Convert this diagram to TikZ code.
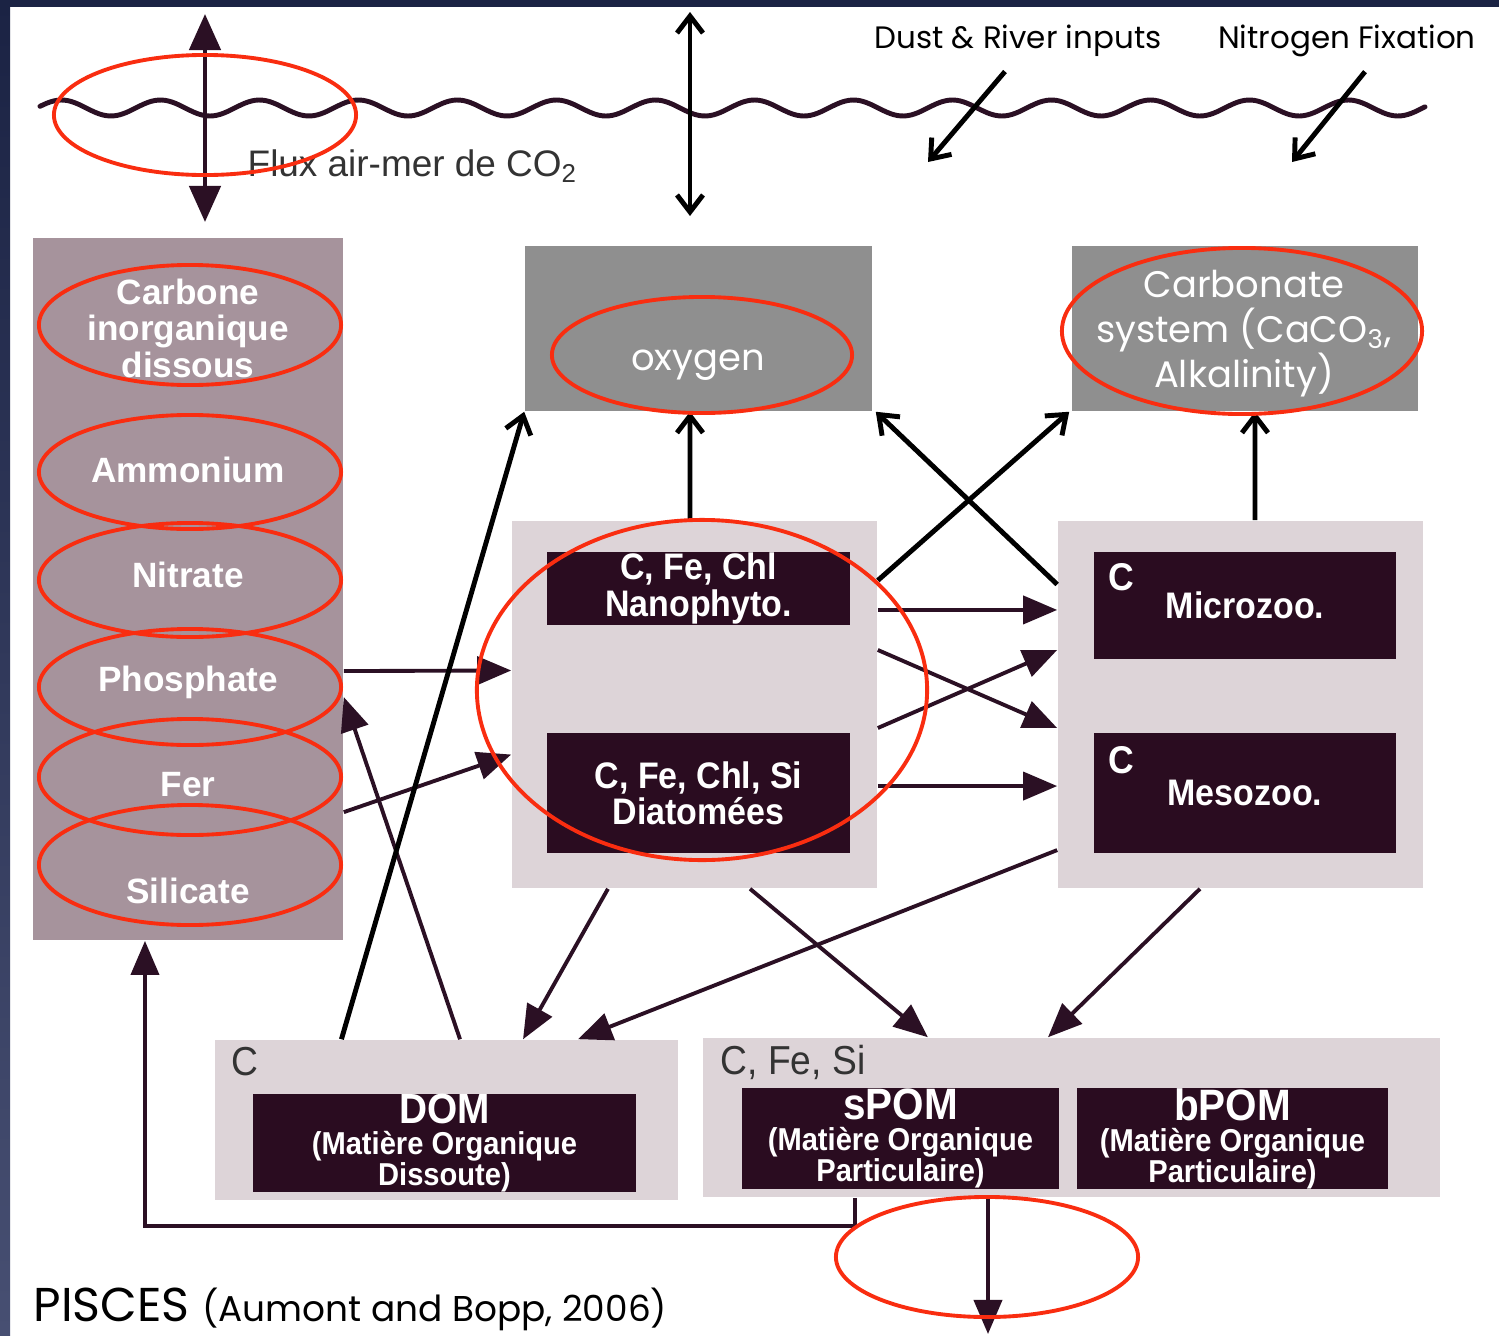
\documentclass[tikz,border=0pt]{standalone}
\usepackage{fontspec}
\setmainfont{Liberation Sans}
\newfontfamily\gothic{Poppins}
\newfontfamily\narrowsf[FakeStretch=0.92]{Liberation Sans}
\usetikzlibrary{arrows.meta}
\definecolor{navy}{HTML}{1B2344}
\definecolor{navylow}{HTML}{474F72}
\definecolor{ink}{HTML}{2B1024}
\definecolor{plum}{HTML}{2A0C20}
\definecolor{mauve}{HTML}{A6939C}
\definecolor{lilac}{HTML}{DDD4D8}
\definecolor{tracergrey}{HTML}{8F8F8F}
\definecolor{ringred}{HTML}{F92D10}

\begin{document}
\begin{tikzpicture}[x=0.01cm,y=-0.01cm,
  pool/.style={fill=mauve,inner sep=0pt},
  group/.style={fill=lilac,inner sep=0pt},
  tracer/.style={fill=tracergrey,inner sep=0pt,text=white,align=center,
                 font=\gothic\fontsize{10.5}{12.8}\selectfont},
  cell/.style={fill=plum,inner sep=0pt,text=white,align=center,
               font=\narrowsf\bfseries\fontsize{10.5}{10.3}\selectfont},
  pomcell/.style={cell,font=\narrowsf\bfseries\fontsize{9}{8.8}\selectfont},
  nut/.style={text=white,align=center,inner sep=0pt,
              font=\bfseries\fontsize{10}{10.4}\selectfont},
  tag/.style={anchor=west,inner sep=0pt,text=black!80,
              font=\narrowsf\fontsize{11.5}{12}\selectfont},
  ctag/.style={anchor=west,inner sep=0pt,text=white,
              font=\narrowsf\bfseries\fontsize{11}{12}\selectfont},
  note/.style={inner sep=0pt,font=\gothic\fontsize{8.8}{10}\selectfont},
  ring/.style={draw=ringred,line width=1.1pt},
  flow/.style={draw=ink,line width=1.1pt,-{Triangle[length=3.4mm,width=2.8mm]}},
  gas/.style={draw=black,line width=1.4pt,-{Straight Barb[length=1.7mm,width=2.6mm]}},
  gas2/.style={draw=black,line width=1.4pt,
              {Straight Barb[length=1.7mm,width=2.6mm]}-{Straight Barb[length=1.7mm,width=2.6mm]}},
  co2/.style={draw=ink,line width=1.3pt,
              {Triangle[length=3.6mm,width=3.1mm]}-{Triangle[length=3.6mm,width=3.1mm]}}]
  \useasboundingbox (0,0) rectangle (1499,1336);
  % slide frame
  \fill[white] (0,0) rectangle (1499,1336);
  \shade[top color=navy,bottom color=navylow] (0,0) rectangle (10,1336);
  \fill[navy] (0,0) rectangle (1499,7);

  % sea surface
  \draw[ink,line width=1.4pt,line cap=round]
    plot[domain=40:1425,samples=400,smooth] (\x,{108-8*sin(3.63636*(\x-40)+12)});

  % pools
  \node[pool,minimum width=3.10cm,minimum height=7.02cm] (colL) at (188,589) {};
  \node[tracer,minimum width=3.47cm,minimum height=1.65cm] (oxy) at (698.5,328.5) {};
  \node[tracer,minimum width=3.46cm,minimum height=1.65cm] (carb) at (1245,328.5) {};
  \node[group,minimum width=3.65cm,minimum height=3.67cm] (phyto) at (694.5,704.5) {};
  \node[group,minimum width=3.65cm,minimum height=3.67cm] (zoo) at (1240.5,704.5) {};
  \node[group,minimum width=4.63cm,minimum height=1.60cm] (domg) at (446.5,1120) {};
  \node[group,minimum width=7.37cm,minimum height=1.59cm] (pomg) at (1071.5,1117.5) {};

  \node[cell,minimum width=3.03cm,minimum height=0.73cm] (nano) at (698.5,588.5)
    {C, Fe, Chl\\Nanophyto.};
  \node[cell,minimum width=3.03cm,minimum height=1.20cm] (diat) at (698.5,793)
    {C, Fe, Chl, Si\\Diatomées};
  \node[cell,minimum width=3.02cm,minimum height=1.07cm] (micro) at (1245,605.5) {Microzoo.};
  \node[cell,minimum width=3.02cm,minimum height=1.20cm] (meso) at (1245,793) {Mesozoo.};
  \node[pomcell,minimum width=3.83cm,minimum height=0.98cm] (dom) at (444.5,1143)
    {{\fontsize{12}{12}\selectfont DOM}\\(Matière Organique\\Dissoute)};
  \node[pomcell,minimum width=3.17cm,minimum height=1.01cm] (spom) at (900.5,1138.5)
    {{\fontsize{12.5}{12}\selectfont sPOM}\\(Matière Organique\\Particulaire)};
  \node[pomcell,minimum width=3.11cm,minimum height=1.01cm] (bpom) at (1232.5,1138.5)
    {{\fontsize{12.5}{12}\selectfont bPOM}\\(Matière Organique\\Particulaire)};

  % labels
  \node[ctag] (microC) at (1108,577) {C};
  \node[ctag] (mesoC) at (1108,760) {C};
  \node[tag] (domC) at (231,1062) {C};
  \node[tag] (pomC) at (720,1062) {C, Fe, Si};
  \node[nut] (dic) at (188,328) {Carbone\\inorganique\\dissous};
  \node[nut] (nh4) at (188,470) {Ammonium};
  \node[nut] (no3) at (188,575) {Nitrate};
  \node[nut] (po4) at (188,682) {Phosphate};
  \node[nut] (fe) at (188,785) {Fer};
  \node[nut] (si) at (188,891) {Silicate};
  \node[tracer,fill=none] (oxyT) at (698,365) {oxygen};
  \node[tracer,fill=none] (carbT) at (1244,334)
    {Carbonate\\system (CaCO\textsubscript{3},\\Alkalinity)};
  \node[anchor=west,inner sep=0pt,text=black!80,font=\fontsize{10.5}{12}\selectfont]
    (flux) at (247,166) {Flux air-mer de CO\textsubscript{2}};
  \node[note] (dust) at (1018,41) {Dust \& River inputs};
  \node[note] (nfix) at (1347,41) {Nitrogen Fixation};
  \node[anchor=base west,inner sep=0pt,font=\gothic\fontsize{13.5}{14}\selectfont]
    (cite) at (33,1321) {PISCES {\fontsize{10.2}{12}\selectfont(Aumont and Bopp, 2006)}};

  % free ends
  \coordinate (atmC) at (205,14);
  \coordinate (seaC) at (205,222);
  \coordinate (atmO) at (690,12);
  \coordinate (seaO) at (690,216);
  \coordinate (dustIn) at (928,162);
  \coordinate (nfixIn) at (1292,162);
  \coordinate (floor) at (988,1334);

  % exchanges with the atmosphere
  \draw[co2] (seaC) -- (atmC);
  \draw[gas2] (seaO) -- (atmO);
  \draw[gas] ([xshift=-1.3mm,yshift=-1.4mm]dust.south) -- (dustIn);
  \draw[gas] ([xshift=1.8mm,yshift=-1.4mm]nfix.south) -- (nfixIn);

  % nutrient uptake and regeneration
  \draw[flow] ([yshift=-8.2mm]colL.east) -- ([yshift=3.4mm]phyto.west);
  \draw[flow] ([yshift=-22.3mm]colL.east) -- ([yshift=-5mm]phyto.west);
  \draw[flow] ([xshift=1.35mm]domg.north) -- ([yshift=-10.8mm]colL.east);
  \draw[gas] ([xshift=-1.05cm]domg.north) -- (oxy.south west);
  \draw[gas] ([xshift=-0.45mm]phyto.north) -- ([xshift=-0.85mm]oxy.south);
  \draw[gas] ([yshift=12mm]zoo.west) -- ([xshift=0.3mm]oxy.south east);
  \draw[gas] ([yshift=12.4mm]phyto.east) -- ([xshift=-0.2mm]carb.south west);
  \draw[gas] ([xshift=1.45mm]zoo.north) -- ([xshift=1mm]carb.south);

  % grazing
  \draw[flow] ([yshift=9.45mm]phyto.east) -- ([yshift=9.45mm]zoo.west);
  \draw[flow] ([yshift=5.45mm]phyto.east) -- ([yshift=-2.35mm]zoo.west);
  \draw[flow] ([yshift=-2.35mm]phyto.east) -- ([yshift=5.45mm]zoo.west);
  \draw[flow] ([yshift=-8.15mm]phyto.east) -- ([yshift=-8.15mm]zoo.west);

  % mortality and egestion
  \draw[flow] ([xshift=-8.65mm]phyto.south) -- ([xshift=7.65mm]domg.north);
  \draw[flow] ([yshift=-14.55mm]zoo.west) -- ([xshift=13.15mm]domg.north);
  \draw[flow] ([xshift=5.55mm]phyto.south) -- ([xshift=-14.35mm]pomg.north);
  \draw[flow] ([xshift=-4.05mm]zoo.south) -- ([xshift=-2.35mm]pomg.north);

  % sinking and remineralisation
  \draw[flow] ([xshift=-8.35mm]pomg.south) -- (floor);
  \draw[flow] ([xshift=-2.165cm]pomg.south) -- ++(0,28) -| ([xshift=-4.3mm]colL.south);

  % highlights
  \draw[ring] (205,115) ellipse (1.51cm and 0.60cm);
  \foreach \yc/\ry in {325/0.60,472/0.57,580/0.57,687/0.58,777/0.58,865/0.60}
    \draw[ring] (190,\yc) ellipse (1.51cm and \ry cm);
  \draw[ring] (702,355) ellipse (1.50cm and 0.58cm);
  \draw[ring] (1242,331) ellipse (1.80cm and 0.83cm);
  \draw[ring] (702,690) ellipse (2.25cm and 1.70cm);
  \draw[ring] (987,1257) ellipse (1.51cm and 0.60cm);
\end{tikzpicture}
\end{document}
